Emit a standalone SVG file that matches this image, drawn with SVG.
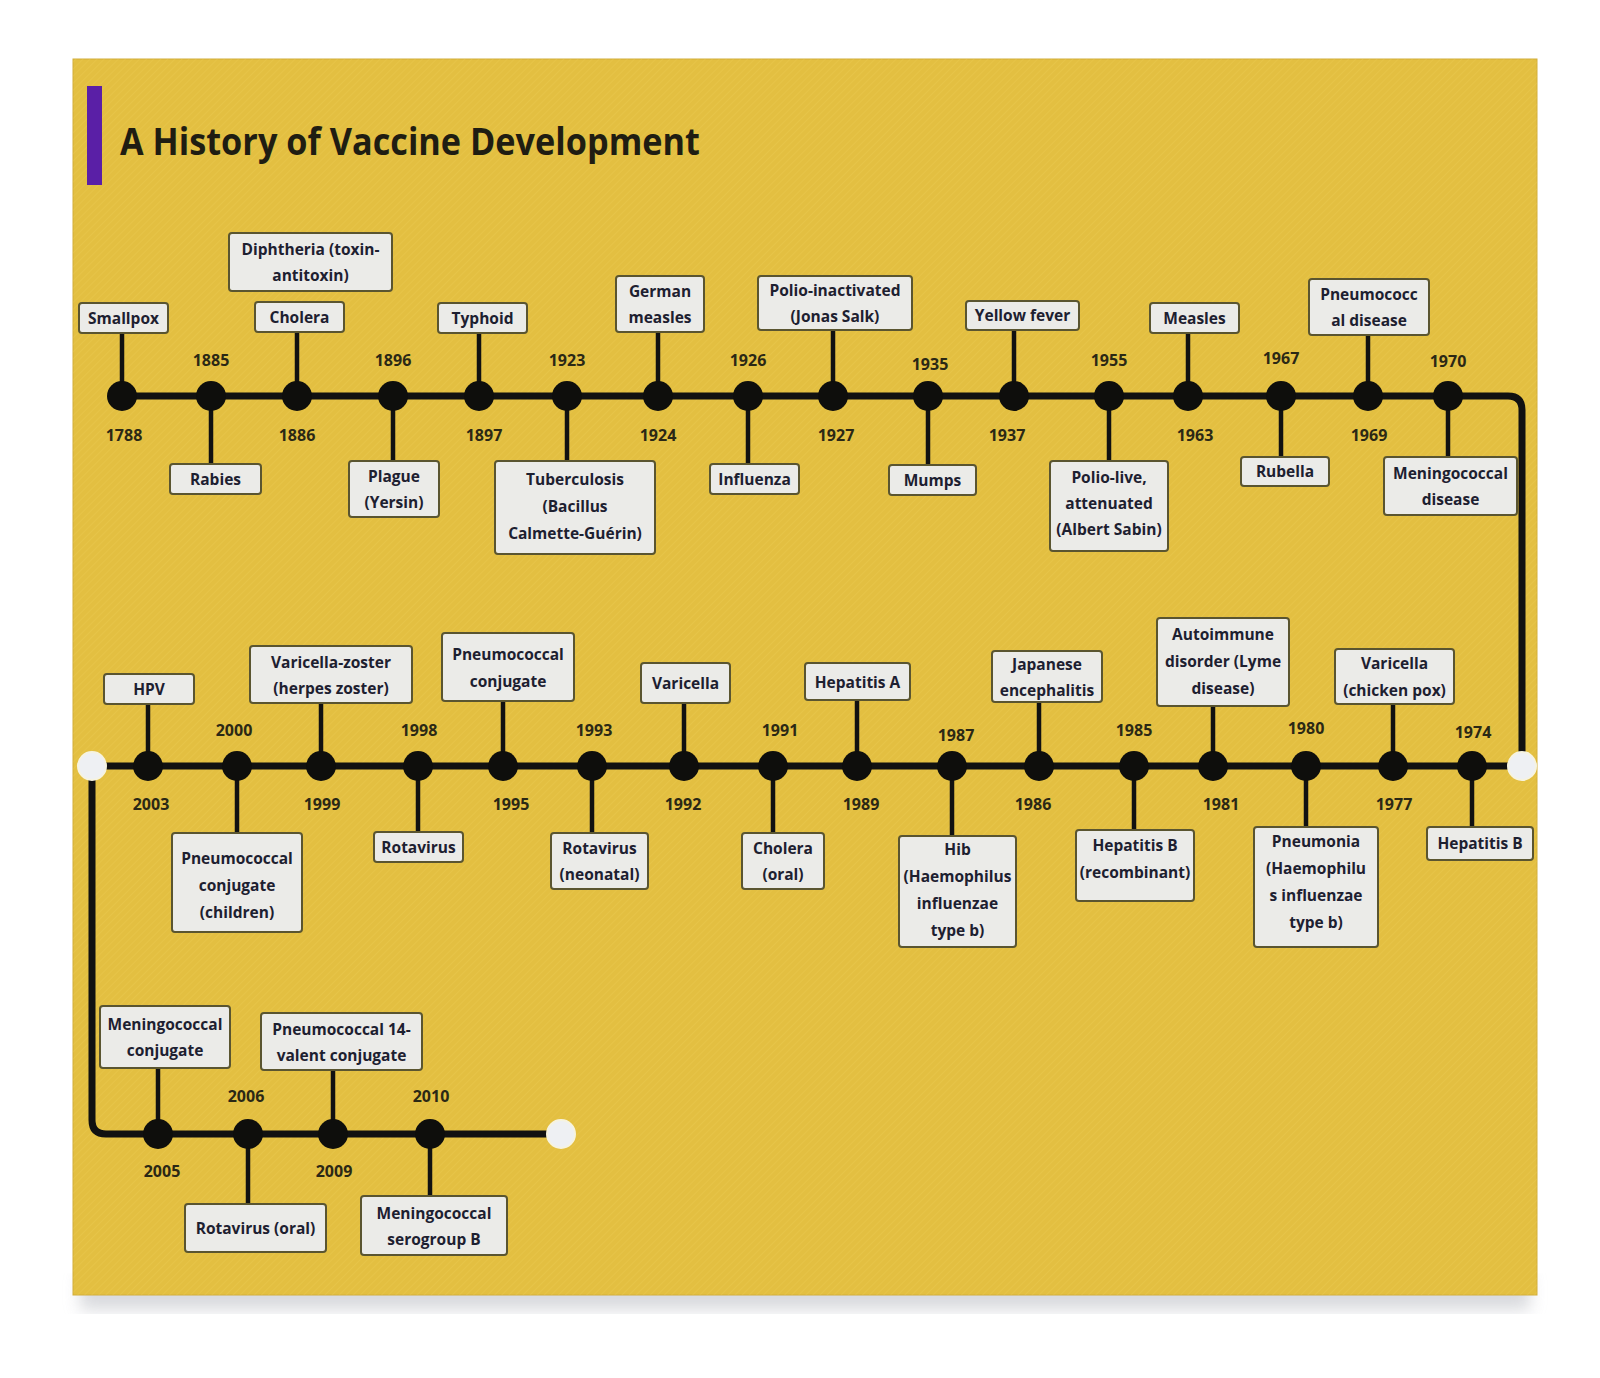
<svg xmlns="http://www.w3.org/2000/svg" width="1600" height="1378" viewBox="0 0 1600 1378">
<style>
.box{fill:#ebebe8;stroke:#5a5530;stroke-width:2}
.lbl{font-family:"Open Sans","Liberation Sans",sans-serif;font-weight:700;font-size:15.5px;fill:#1d2030;text-anchor:middle}
.yr{font-family:"Open Sans","Liberation Sans",sans-serif;font-weight:700;font-size:16px;fill:#2b2815;text-anchor:middle}
.dot{fill:#0e0e0c}
.end{fill:#eef0f3;stroke:#f6f3e0;stroke-width:2}
.tl{stroke:#111;stroke-width:7;fill:none;stroke-linejoin:round}
.stem{stroke:#111;stroke-width:4.5}
.title{font-family:"Open Sans","Liberation Sans",sans-serif;font-weight:700;font-size:38px;fill:#1f1d12}
</style>
<defs>
<pattern id="tex" width="5" height="5" patternUnits="userSpaceOnUse" patternTransform="rotate(45)">
<line x1="0" y1="0" x2="0" y2="5" stroke="#f2d05a" stroke-width="1.5" opacity="0.35"/>
</pattern>
<filter id="sh" x="-5%" y="-5%" width="110%" height="115%">
<feGaussianBlur stdDeviation="8"/>
</filter>
</defs>
<rect width="1600" height="1378" fill="#ffffff"/>
<rect x="80" y="1275" width="1450" height="35" fill="#c9cbd0" filter="url(#sh)" opacity="0.7"/>
<rect x="73" y="59" width="1464" height="1236" fill="#e3bf41" stroke="#d2ae3a" stroke-width="1"/>
<rect x="73" y="59" width="1464" height="1236" fill="url(#tex)"/>
<rect x="87" y="86" width="15" height="99" fill="#5a1fa6"/>
<text class="title" x="120" y="155" textLength="580" lengthAdjust="spacingAndGlyphs">A History of Vaccine Development</text>

<g id="connectors">
<path class="tl" d="M122 396 H1508 Q1522 396 1522 410 V766"/>
<path class="tl" d="M92 766 H1522"/>
<path class="tl" d="M92 766 V1120 Q92 1134 106 1134 H561"/>
<!-- row 1 stems -->
<line class="stem" x1="122" y1="396" x2="122" y2="333"/>
<line class="stem" x1="211" y1="396" x2="211" y2="464"/>
<line class="stem" x1="297" y1="396" x2="297" y2="332"/>
<line class="stem" x1="393" y1="396" x2="393" y2="461"/>
<line class="stem" x1="479" y1="396" x2="479" y2="333"/>
<line class="stem" x1="567" y1="396" x2="567" y2="461"/>
<line class="stem" x1="658" y1="396" x2="658" y2="332"/>
<line class="stem" x1="748" y1="396" x2="748" y2="464"/>
<line class="stem" x1="833" y1="396" x2="833" y2="330"/>
<line class="stem" x1="928" y1="396" x2="928" y2="465"/>
<line class="stem" x1="1014" y1="396" x2="1014" y2="330"/>
<line class="stem" x1="1109" y1="396" x2="1109" y2="461"/>
<line class="stem" x1="1188" y1="396" x2="1188" y2="333"/>
<line class="stem" x1="1281" y1="396" x2="1281" y2="457"/>
<line class="stem" x1="1368" y1="396" x2="1368" y2="335"/>
<line class="stem" x1="1448" y1="396" x2="1448" y2="457"/>
<!-- row 2 stems -->
<line class="stem" x1="148" y1="766" x2="148" y2="704"/>
<line class="stem" x1="237" y1="766" x2="237" y2="833"/>
<line class="stem" x1="321" y1="766" x2="321" y2="703"/>
<line class="stem" x1="418" y1="766" x2="418" y2="832"/>
<line class="stem" x1="503" y1="766" x2="503" y2="701"/>
<line class="stem" x1="592" y1="766" x2="592" y2="833"/>
<line class="stem" x1="684" y1="766" x2="684" y2="703"/>
<line class="stem" x1="773" y1="766" x2="773" y2="833"/>
<line class="stem" x1="857" y1="766" x2="857" y2="700"/>
<line class="stem" x1="952" y1="766" x2="952" y2="836"/>
<line class="stem" x1="1039" y1="766" x2="1039" y2="702"/>
<line class="stem" x1="1134" y1="766" x2="1134" y2="830"/>
<line class="stem" x1="1213" y1="766" x2="1213" y2="706"/>
<line class="stem" x1="1306" y1="766" x2="1306" y2="827"/>
<line class="stem" x1="1393" y1="766" x2="1393" y2="704"/>
<line class="stem" x1="1472" y1="766" x2="1472" y2="827"/>
<!-- row 3 stems -->
<line class="stem" x1="158" y1="1134" x2="158" y2="1068"/>
<line class="stem" x1="248" y1="1134" x2="248" y2="1204"/>
<line class="stem" x1="333" y1="1134" x2="333" y2="1070"/>
<line class="stem" x1="430" y1="1134" x2="430" y2="1196"/>
</g>

<circle class="end" cx="1522" cy="766" r="14"/>
<circle class="end" cx="92" cy="766" r="14"/>
<circle class="end" cx="561" cy="1134" r="14"/>

<!-- Row 1 -->
<g id="n1788"><rect class="box" x="79" y="303" width="89" height="30" rx="3"/><text class="lbl" x="123.5" y="324">Smallpox</text><circle class="dot" cx="122" cy="396" r="15"/><text class="yr" x="124" y="441">1788</text></g>
<g id="n1885"><rect class="box" x="170" y="464" width="91" height="30" rx="3"/><text class="lbl" x="215.5" y="485">Rabies</text><circle class="dot" cx="211" cy="396" r="15"/><text class="yr" x="211" y="366">1885</text></g>
<g id="n1886"><rect class="box" x="255" y="302" width="89" height="30" rx="3"/><text class="lbl" x="299.5" y="323">Cholera</text><circle class="dot" cx="297" cy="396" r="15"/><text class="yr" x="297" y="441">1886</text></g>
<g id="n1886b"><rect class="box" x="229" y="233" width="163" height="58" rx="3"/><text class="lbl" x="310.5" y="255">Diphtheria (toxin-</text><text class="lbl" x="310.5" y="281">antitoxin)</text></g>
<g id="n1896"><rect class="box" x="349" y="461" width="90" height="56" rx="3"/><text class="lbl" x="394" y="482">Plague</text><text class="lbl" x="394" y="508">(Yersin)</text><circle class="dot" cx="393" cy="396" r="15"/><text class="yr" x="393" y="366">1896</text></g>
<g id="n1897"><rect class="box" x="438" y="303" width="89" height="30" rx="3"/><text class="lbl" x="482.5" y="324">Typhoid</text><circle class="dot" cx="479" cy="396" r="15"/><text class="yr" x="484" y="441">1897</text></g>
<g id="n1923"><rect class="box" x="495" y="461" width="160" height="93" rx="3"/><text class="lbl" x="575" y="485">Tuberculosis</text><text class="lbl" x="575" y="512">(Bacillus</text><text class="lbl" x="575" y="539">Calmette-Guérin)</text><circle class="dot" cx="567" cy="396" r="15"/><text class="yr" x="567" y="366">1923</text></g>
<g id="n1924"><rect class="box" x="616" y="276" width="88" height="56" rx="3"/><text class="lbl" x="660" y="297">German</text><text class="lbl" x="660" y="323">measles</text><circle class="dot" cx="658" cy="396" r="15"/><text class="yr" x="658" y="441">1924</text></g>
<g id="n1926"><rect class="box" x="710" y="464" width="89" height="30" rx="3"/><text class="lbl" x="754.5" y="485">Influenza</text><circle class="dot" cx="748" cy="396" r="15"/><text class="yr" x="748" y="366">1926</text></g>
<g id="n1927"><rect class="box" x="758" y="276" width="154" height="54" rx="3"/><text class="lbl" x="835" y="296">Polio-inactivated</text><text class="lbl" x="835" y="322">(Jonas Salk)</text><circle class="dot" cx="833" cy="396" r="15"/><text class="yr" x="836" y="441">1927</text></g>
<g id="n1935"><rect class="box" x="889" y="465" width="87" height="30" rx="3"/><text class="lbl" x="932.5" y="486">Mumps</text><circle class="dot" cx="928" cy="396" r="15"/><text class="yr" x="930" y="370">1935</text></g>
<g id="n1937"><rect class="box" x="966" y="301" width="113" height="29" rx="3"/><text class="lbl" x="1022.5" y="321">Yellow fever</text><circle class="dot" cx="1014" cy="396" r="15"/><text class="yr" x="1007" y="441">1937</text></g>
<g id="n1955"><rect class="box" x="1050" y="461" width="118" height="90" rx="3"/><text class="lbl" x="1109" y="483">Polio-live,</text><text class="lbl" x="1109" y="509">attenuated</text><text class="lbl" x="1109" y="535">(Albert Sabin)</text><circle class="dot" cx="1109" cy="396" r="15"/><text class="yr" x="1109" y="366">1955</text></g>
<g id="n1963"><rect class="box" x="1150" y="303" width="89" height="30" rx="3"/><text class="lbl" x="1194.5" y="324">Measles</text><circle class="dot" cx="1188" cy="396" r="15"/><text class="yr" x="1195" y="441">1963</text></g>
<g id="n1967"><rect class="box" x="1241" y="457" width="88" height="29" rx="3"/><text class="lbl" x="1285" y="477">Rubella</text><circle class="dot" cx="1281" cy="396" r="15"/><text class="yr" x="1281" y="364">1967</text></g>
<g id="n1969"><rect class="box" x="1309" y="279" width="120" height="56" rx="3"/><text class="lbl" x="1369" y="300">Pneumococc</text><text class="lbl" x="1369" y="326">al disease</text><circle class="dot" cx="1368" cy="396" r="15"/><text class="yr" x="1369" y="441">1969</text></g>
<g id="n1970"><rect class="box" x="1384" y="457" width="133" height="58" rx="3"/><text class="lbl" x="1450.5" y="479">Meningococcal</text><text class="lbl" x="1450.5" y="505">disease</text><circle class="dot" cx="1448" cy="396" r="15"/><text class="yr" x="1448" y="367">1970</text></g>

<!-- Row 2 -->
<g id="n2003"><rect class="box" x="104" y="674" width="90" height="30" rx="3"/><text class="lbl" x="149" y="695">HPV</text><circle class="dot" cx="148" cy="766" r="15"/><text class="yr" x="151" y="810">2003</text></g>
<g id="n2000"><rect class="box" x="172" y="833" width="130" height="99" rx="3"/><text class="lbl" x="237" y="864">Pneumococcal</text><text class="lbl" x="237" y="891">conjugate</text><text class="lbl" x="237" y="918">(children)</text><circle class="dot" cx="237" cy="766" r="15"/><text class="yr" x="234" y="736">2000</text></g>
<g id="n1999"><rect class="box" x="250" y="646" width="162" height="57" rx="3"/><text class="lbl" x="331" y="668">Varicella-zoster</text><text class="lbl" x="331" y="694">(herpes zoster)</text><circle class="dot" cx="321" cy="766" r="15"/><text class="yr" x="322" y="810">1999</text></g>
<g id="n1998"><rect class="box" x="374" y="832" width="89" height="30" rx="3"/><text class="lbl" x="418.5" y="853">Rotavirus</text><circle class="dot" cx="418" cy="766" r="15"/><text class="yr" x="419" y="736">1998</text></g>
<g id="n1995"><rect class="box" x="442" y="633" width="132" height="68" rx="3"/><text class="lbl" x="508" y="660">Pneumococcal</text><text class="lbl" x="508" y="687">conjugate</text><circle class="dot" cx="503" cy="766" r="15"/><text class="yr" x="511" y="810">1995</text></g>
<g id="n1993"><rect class="box" x="551" y="833" width="97" height="56" rx="3"/><text class="lbl" x="599.5" y="854">Rotavirus</text><text class="lbl" x="599.5" y="880">(neonatal)</text><circle class="dot" cx="592" cy="766" r="15"/><text class="yr" x="594" y="736">1993</text></g>
<g id="n1992"><rect class="box" x="641" y="663" width="89" height="40" rx="3"/><text class="lbl" x="685.5" y="689">Varicella</text><circle class="dot" cx="684" cy="766" r="15"/><text class="yr" x="683" y="810">1992</text></g>
<g id="n1991"><rect class="box" x="742" y="833" width="82" height="56" rx="3"/><text class="lbl" x="783" y="854">Cholera</text><text class="lbl" x="783" y="880">(oral)</text><circle class="dot" cx="773" cy="766" r="15"/><text class="yr" x="780" y="736">1991</text></g>
<g id="n1989"><rect class="box" x="805" y="663" width="105" height="37" rx="3"/><text class="lbl" x="857.5" y="688">Hepatitis A</text><circle class="dot" cx="857" cy="766" r="15"/><text class="yr" x="861" y="810">1989</text></g>
<g id="n1987"><rect class="box" x="899" y="836" width="117" height="111" rx="3"/><text class="lbl" x="957.5" y="855">Hib</text><text class="lbl" x="957.5" y="882">(Haemophilus</text><text class="lbl" x="957.5" y="909">influenzae</text><text class="lbl" x="957.5" y="936">type b)</text><circle class="dot" cx="952" cy="766" r="15"/><text class="yr" x="956" y="741">1987</text></g>
<g id="n1986"><rect class="box" x="992" y="651" width="110" height="51" rx="3"/><text class="lbl" x="1047" y="670">Japanese</text><text class="lbl" x="1047" y="696">encephalitis</text><circle class="dot" cx="1039" cy="766" r="15"/><text class="yr" x="1033" y="810">1986</text></g>
<g id="n1985"><rect class="box" x="1076" y="830" width="118" height="71" rx="3"/><text class="lbl" x="1135" y="851">Hepatitis B</text><text class="lbl" x="1135" y="878">(recombinant)</text><circle class="dot" cx="1134" cy="766" r="15"/><text class="yr" x="1134" y="736">1985</text></g>
<g id="n1981"><rect class="box" x="1157" y="618" width="132" height="88" rx="3"/><text class="lbl" x="1223" y="640">Autoimmune</text><text class="lbl" x="1223" y="667">disorder (Lyme</text><text class="lbl" x="1223" y="694">disease)</text><circle class="dot" cx="1213" cy="766" r="15"/><text class="yr" x="1221" y="810">1981</text></g>
<g id="n1980"><rect class="box" x="1254" y="827" width="124" height="120" rx="3"/><text class="lbl" x="1316" y="847">Pneumonia</text><text class="lbl" x="1316" y="874">(Haemophilu</text><text class="lbl" x="1316" y="901">s influenzae</text><text class="lbl" x="1316" y="928">type b)</text><circle class="dot" cx="1306" cy="766" r="15"/><text class="yr" x="1306" y="734">1980</text></g>
<g id="n1977"><rect class="box" x="1335" y="649" width="119" height="55" rx="3"/><text class="lbl" x="1394.5" y="669">Varicella</text><text class="lbl" x="1394.5" y="696">(chicken pox)</text><circle class="dot" cx="1393" cy="766" r="15"/><text class="yr" x="1394" y="810">1977</text></g>
<g id="n1974"><rect class="box" x="1427" y="827" width="106" height="33" rx="3"/><text class="lbl" x="1480" y="849">Hepatitis B</text><circle class="dot" cx="1472" cy="766" r="15"/><text class="yr" x="1473" y="738">1974</text></g>

<!-- Row 3 -->
<g id="n2005"><rect class="box" x="100" y="1006" width="130" height="62" rx="3"/><text class="lbl" x="165" y="1030">Meningococcal</text><text class="lbl" x="165" y="1056">conjugate</text><circle class="dot" cx="158" cy="1134" r="15"/><text class="yr" x="162" y="1177">2005</text></g>
<g id="n2006"><rect class="box" x="185" y="1204" width="141" height="48" rx="3"/><text class="lbl" x="255.5" y="1234">Rotavirus (oral)</text><circle class="dot" cx="248" cy="1134" r="15"/><text class="yr" x="246" y="1102">2006</text></g>
<g id="n2009"><rect class="box" x="261" y="1013" width="161" height="57" rx="3"/><text class="lbl" x="341.5" y="1035">Pneumococcal 14-</text><text class="lbl" x="341.5" y="1061">valent conjugate</text><circle class="dot" cx="333" cy="1134" r="15"/><text class="yr" x="334" y="1177">2009</text></g>
<g id="n2010"><rect class="box" x="361" y="1196" width="146" height="59" rx="3"/><text class="lbl" x="434" y="1219">Meningococcal</text><text class="lbl" x="434" y="1245">serogroup B</text><circle class="dot" cx="430" cy="1134" r="15"/><text class="yr" x="431" y="1102">2010</text></g>
</svg>
